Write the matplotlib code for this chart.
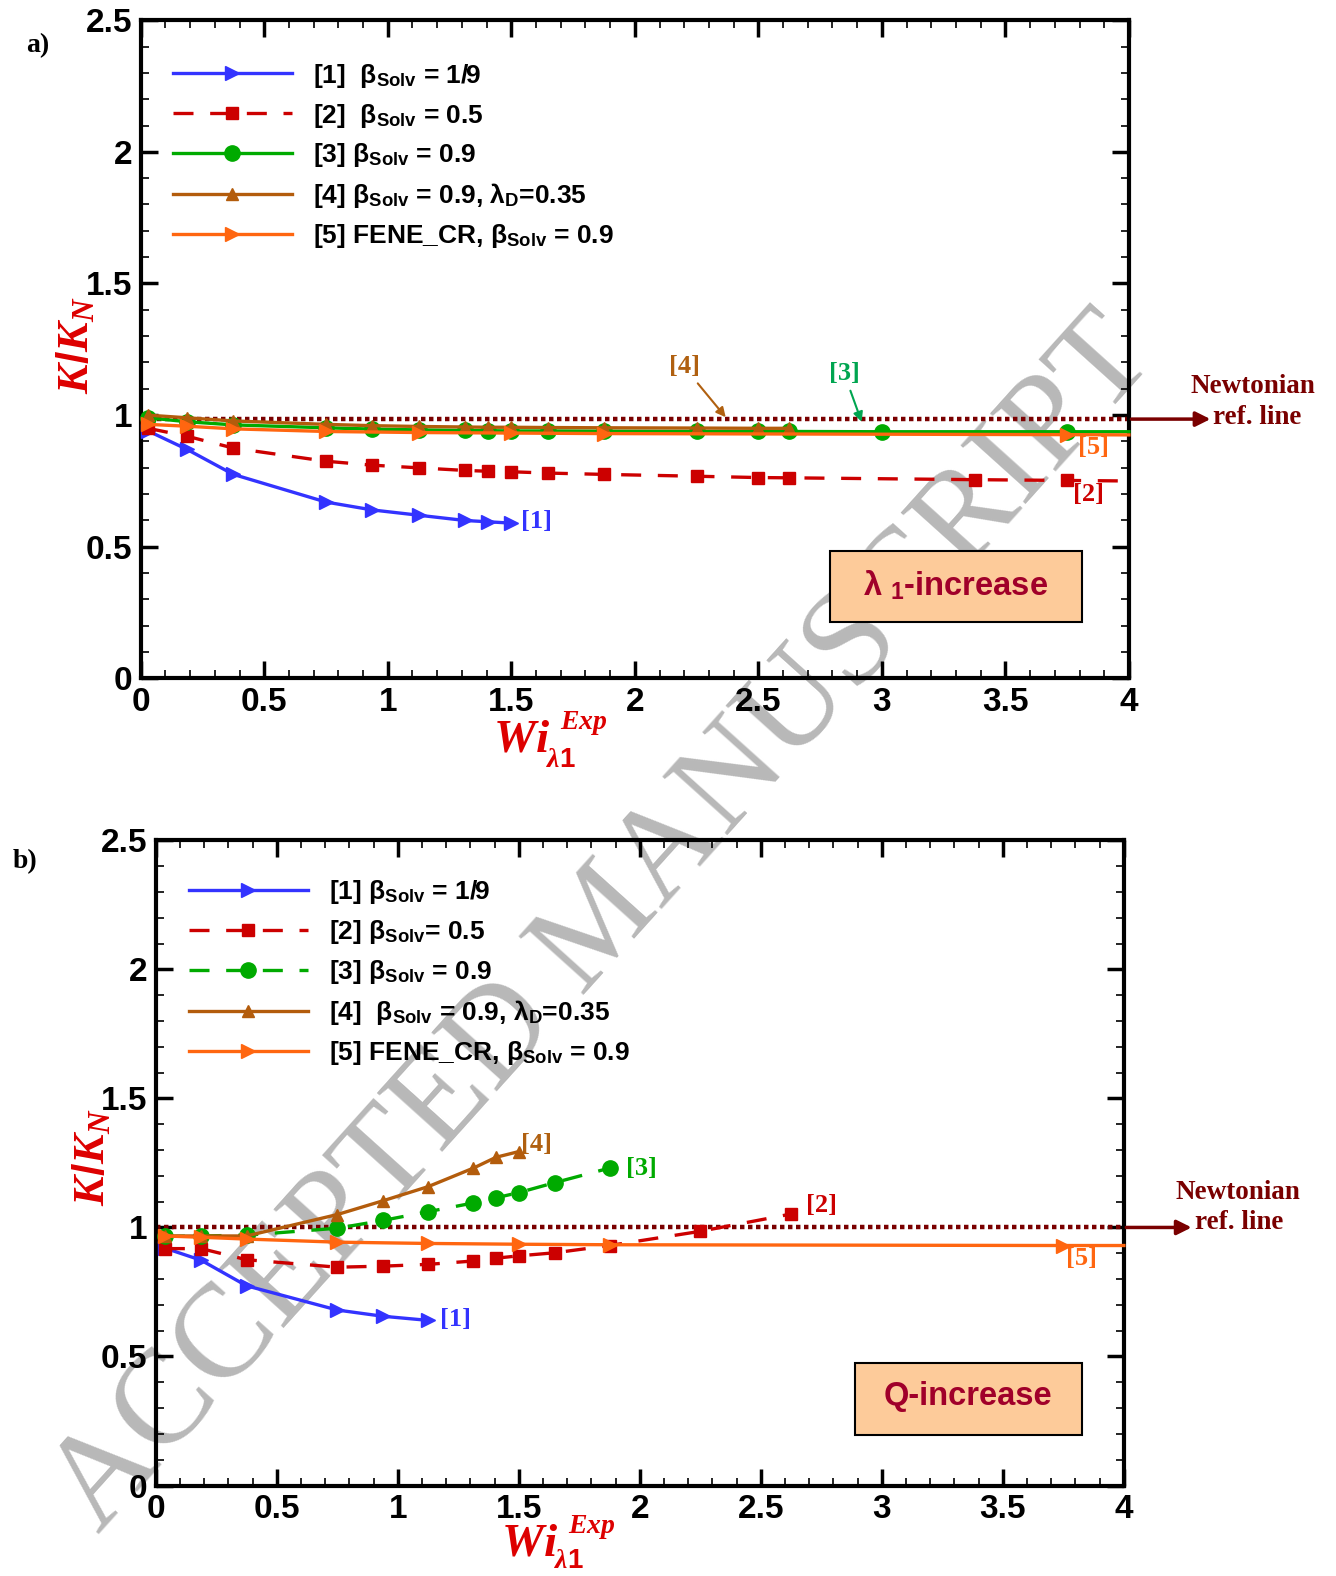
import numpy as np
import matplotlib
matplotlib.use("Agg")
import matplotlib.pyplot as plt
from matplotlib.patches import Rectangle
from matplotlib.ticker import MultipleLocator, FormatStrFormatter

plt.rcParams["font.family"] = ["Liberation Sans", "DejaVu Sans"]
plt.rcParams["font.weight"] = "bold"
plt.rcParams["mathtext.fontset"] = "custom"
plt.rcParams["mathtext.rm"] = "Liberation Sans:bold"
plt.rcParams["mathtext.bf"] = "Liberation Sans:bold"
plt.rcParams["mathtext.it"] = "Liberation Serif:bold:italic"

# ---- panel a) : lambda_1 increase ----
a1_x = [0.03, 0.1875, 0.375, 0.75, 0.9375, 1.125, 1.3125, 1.40625, 1.5]
a1_y = [0.94, 0.87, 0.775, 0.67, 0.64, 0.62, 0.60, 0.595, 0.59]
a2_x = [0.03, 0.1875, 0.375, 0.75, 0.9375, 1.125, 1.3125, 1.40625, 1.5, 1.65, 1.875,
        2.25, 2.5, 2.625, 3.375, 3.75, 4.0]
a2_y = [0.95, 0.92, 0.875, 0.825, 0.81, 0.80, 0.79, 0.787, 0.785, 0.78, 0.775,
        0.768, 0.763, 0.762, 0.755, 0.752, 0.75]
a3_x = [0.03, 0.1875, 0.375, 0.75, 0.9375, 1.125, 1.3125, 1.40625, 1.5, 1.65, 1.875,
        2.25, 2.5, 2.625, 3.0, 3.75, 4.0]
a3_y = [0.99, 0.975, 0.963, 0.952, 0.947, 0.944, 0.942, 0.941, 0.94, 0.94, 0.939,
        0.938, 0.938, 0.938, 0.937, 0.937, 0.937]
a4_x = [0.03, 0.1875, 0.375, 0.75, 0.9375, 1.125, 1.3125, 1.40625, 1.5, 1.65, 1.875,
        2.25, 2.5, 2.625]
a4_y = [1.0, 0.99, 0.978, 0.965, 0.96, 0.957, 0.955, 0.954, 0.954, 0.953, 0.952,
        0.951, 0.95, 0.95]
a5_x = [0.03, 0.1875, 0.375, 0.75, 1.125, 1.5, 1.875, 3.75, 4.0]
a5_y = [0.965, 0.958, 0.948, 0.938, 0.934, 0.932, 0.93, 0.926, 0.925]
newt_a = 0.985

# ---- panel b) : Q increase ----
b1_x = [0.0375, 0.1875, 0.375, 0.75, 0.9375, 1.125]
b1_y = [0.92, 0.873, 0.774, 0.68, 0.656, 0.64]
b2_x = [0.0375, 0.1875, 0.375, 0.75, 0.9375, 1.125, 1.3125, 1.40625, 1.5, 1.65, 1.875,
        2.25, 2.625]
b2_y = [0.918, 0.918, 0.875, 0.846, 0.85, 0.857, 0.87, 0.881, 0.89, 0.902, 0.93,
        0.985, 1.052]
b3_x = [0.0375, 0.1875, 0.375, 0.75, 0.9375, 1.125, 1.3125, 1.40625, 1.5, 1.65, 1.875]
b3_y = [0.965, 0.967, 0.97, 0.997, 1.027, 1.061, 1.095, 1.115, 1.135, 1.174, 1.23]
b4_x = [0.0375, 0.1875, 0.375, 0.75, 0.9375, 1.125, 1.3125, 1.40625, 1.5]
b4_y = [0.967, 0.967, 0.967, 1.05, 1.103, 1.158, 1.23, 1.272, 1.294]
b5_x = [0.0375, 0.1875, 0.375, 0.75, 1.125, 1.5, 1.875, 3.75, 4.0]
b5_y = [0.967, 0.962, 0.955, 0.943, 0.938, 0.935, 0.933, 0.93, 0.93]
newt_b = 1.0

labels_a = [r"[1]  β$_{\mathrm{Solv}}$ = 1/9",
            r"[2]  β$_{\mathrm{Solv}}$ = 0.5",
            r"[3] β$_{\mathrm{Solv}}$ = 0.9",
            r"[4] β$_{\mathrm{Solv}}$ = 0.9, λ$_{\mathrm{D}}$=0.35",
            r"[5] FENE_CR, β$_{\mathrm{Solv}}$ = 0.9"]
labels_b = [r"[1] β$_{\mathrm{Solv}}$ = 1/9",
            r"[2] β$_{\mathrm{Solv}}$= 0.5",
            r"[3] β$_{\mathrm{Solv}}$ = 0.9",
            r"[4]  β$_{\mathrm{Solv}}$ = 0.9, λ$_{\mathrm{D}}$=0.35",
            r"[5] FENE_CR, β$_{\mathrm{Solv}}$ = 0.9"]

BLUE = "#3333ff"
RED = "#cc0000"
GREEN = "#00aa00"
BROWN = "#b35c0c"
ORANGE = "#ff6610"
MAROON = "#7a0000"
LABRED = "#dd0000"
SERIF = "Liberation Serif"
DASH = (0, (6, 5))


def style_axes(ax):
    ax.set_xlim(0, 4)
    ax.set_ylim(0, 2.5)
    ax.set_facecolor("none")
    ax.xaxis.set_major_locator(MultipleLocator(0.5))
    ax.xaxis.set_minor_locator(MultipleLocator(0.1))
    ax.yaxis.set_major_locator(MultipleLocator(0.5))
    ax.yaxis.set_minor_locator(MultipleLocator(0.1))
    ax.xaxis.set_major_formatter(FormatStrFormatter("%g"))
    ax.yaxis.set_major_formatter(FormatStrFormatter("%g"))
    ax.tick_params(which="major", direction="in", length=12, width=2.5,
                   top=True, right=True, labelsize=24, pad=6)
    ax.tick_params(which="minor", direction="in", length=6, width=1.2,
                   top=True, right=True)
    for lab in ax.get_xticklabels() + ax.get_yticklabels():
        lab.set_fontweight("bold")
    for sp in ax.spines.values():
        sp.set_linewidth(3)


def newtonian(ax, level, xn, yn, xr, yr, xtip):
    ax.plot([0, 4], [level, level], color=MAROON, lw=3.2, ls=(0, (1, 0.8)), zorder=2)
    ax.annotate("", xy=(xtip, level), xytext=(4.01, level), annotation_clip=False,
                arrowprops=dict(arrowstyle="-|>", color=MAROON, lw=2.5, mutation_scale=22,
                                shrinkA=0, shrinkB=0))
    ax.text(xn, yn, "Newtonian", color=MAROON, family=SERIF, weight="bold", fontsize=19.5,
            ha="center", va="center", clip_on=False)
    ax.text(xr, yr, "ref. line", color=MAROON, family=SERIF, weight="bold", fontsize=19.5,
            ha="left", va="center", clip_on=False)


def legend(ax, anchor):
    leg = ax.legend(loc="upper left", bbox_to_anchor=anchor, frameon=False, fontsize=19,
                    handlelength=4.5, handletextpad=0.82, labelspacing=0.45,
                    borderpad=0, borderaxespad=0, numpoints=1)
    for t in leg.get_texts():
        t.set_fontweight("bold")


def xlabel(xw, yw, sub_dy=0.013):
    # Wi with subscript lambda1 and superscript Exp, placed as separate pieces
    fig.text(xw, yw, r"$Wi$", color=LABRED, fontsize=34, ha="center", va="center")
    fig.text(xw + 0.0185, yw - sub_dy, r"$\lambda\mathit{1}$", color=LABRED, fontsize=20,
             ha="left", va="center")
    fig.text(xw + 0.029, yw + 0.0105, r"$Exp$", color=LABRED, fontsize=20,
             ha="left", va="center")


fig = plt.figure(figsize=(13.36, 15.76), dpi=100)
axa = fig.add_axes([0.1053, 0.5695, 0.7397, 0.4177])
axb = fig.add_axes([0.1166, 0.0574, 0.7246, 0.4094])

# watermark behind everything
fig.text(0.452, 0.413, "ACCEPTED MANUSCRIPT", family=SERIF, fontsize=96, color="#b8b8b8",
         rotation=48, ha="center", va="center", zorder=-5, weight="normal")

lw = 2.4
ms = 10

# panel a
axa.plot(a1_x, a1_y, color=BLUE, lw=lw, marker=">", ms=ms, label=labels_a[0], clip_on=False, zorder=4)
axa.plot(a2_x, a2_y, color=RED, lw=lw, ls=DASH, marker="s", ms=ms - 1,
         markevery=list(range(len(a2_x) - 1)), label=labels_a[1], clip_on=False, zorder=4)
axa.plot(a3_x, a3_y, color=GREEN, lw=lw, marker="o", ms=ms + 1,
         markevery=list(range(len(a3_x) - 1)), label=labels_a[2], clip_on=False, zorder=4)
axa.plot(a4_x, a4_y, color=BROWN, lw=lw, marker="^", ms=ms - 1, label=labels_a[3], clip_on=False, zorder=5)
axa.plot(a5_x, a5_y, color=ORANGE, lw=lw, marker=">", ms=ms,
         markevery=list(range(len(a5_x) - 1)), label=labels_a[4], clip_on=False, zorder=5)
style_axes(axa)
legend(axa, (0.0326, 0.937))
newtonian(axa, newt_a, 4.50, 1.107, 4.342, 0.992, 4.33)

axa.text(1.54, 0.595, "[1]", color=BLUE, family=SERIF, fontsize=19, ha="left", va="center")
axa.text(3.837, 0.698, "[2]", color=RED, family=SERIF, fontsize=19, ha="center", va="center")
axa.text(3.858, 0.878, "[5]", color=ORANGE, family=SERIF, fontsize=19, ha="center", va="center")
axa.annotate("[4]", xy=(2.368, 0.992), xytext=(2.2, 1.183), color="#b06010", family=SERIF,
             fontsize=19, ha="center", va="center",
             arrowprops=dict(arrowstyle="-|>", color="#b06010", lw=1.5, mutation_scale=14,
                             shrinkA=2, shrinkB=0))
axa.annotate("[3]", xy=(2.918, 0.975), xytext=(2.848, 1.157), color="#00a550", family=SERIF,
             fontsize=19, ha="center", va="center",
             arrowprops=dict(arrowstyle="-|>", color="#00a550", lw=1.5, mutation_scale=14,
                             shrinkA=2, shrinkB=0))

axa.add_patch(Rectangle((0.698, 0.0855), 0.255, 0.1085, transform=axa.transAxes,
                        facecolor="#fdcb9a", edgecolor="black", lw=1.5, zorder=6))
axa.text(0.825, 0.142, r"λ $_{\mathrm{1}}$-increase", transform=axa.transAxes, color="#a0002a",
         fontsize=23.5, weight="bold", ha="center", va="center", zorder=7)

# panel b
axb.plot(b1_x, b1_y, color=BLUE, lw=lw, marker=">", ms=ms, label=labels_b[0], clip_on=False, zorder=4)
axb.plot(b2_x, b2_y, color=RED, lw=lw, ls=DASH, marker="s", ms=ms - 1, label=labels_b[1],
         clip_on=False, zorder=4)
axb.plot(b3_x, b3_y, color=GREEN, lw=lw, ls=DASH, marker="o", ms=ms + 1, label=labels_b[2],
         clip_on=False, zorder=4)
axb.plot(b4_x, b4_y, color=BROWN, lw=lw, marker="^", ms=ms - 1, label=labels_b[3], clip_on=False, zorder=5)
axb.plot(b5_x, b5_y, color=ORANGE, lw=lw, marker=">", ms=ms,
         markevery=list(range(len(b5_x) - 1)), label=labels_b[4], clip_on=False, zorder=5)
style_axes(axb)
legend(axb, (0.0343, 0.941))
newtonian(axb, newt_b, 4.47, 1.137, 4.295, 1.02, 4.28)

axb.text(1.238, 0.643, "[1]", color=BLUE, family=SERIF, fontsize=19, ha="center", va="center")
axb.text(2.75, 1.086, "[2]", color=RED, family=SERIF, fontsize=19, ha="center", va="center")
axb.text(2.006, 1.227, "[3]", color=GREEN, family=SERIF, fontsize=19, ha="center", va="center")
axb.text(1.574, 1.32, "[4]", color="#b06010", family=SERIF, fontsize=19, ha="center", va="center")
axb.text(3.826, 0.88, "[5]", color=ORANGE, family=SERIF, fontsize=19, ha="center", va="center")

axb.add_patch(Rectangle((0.722, 0.078), 0.235, 0.112, transform=axb.transAxes,
                        facecolor="#fdcb9a", edgecolor="black", lw=1.5, zorder=6))
axb.text(0.839, 0.138, "Q-increase", transform=axb.transAxes, color="#a0002a",
         fontsize=23.5, weight="bold", ha="center", va="center", zorder=7)

# axis labels and panel tags
xlabel(0.39, 0.531)
xlabel(0.396, 0.0205, sub_dy=0.0112)
fig.text(0.057, 0.781, r"$K/K_N$", color=LABRED, fontsize=32, rotation=90,
         ha="center", va="center")
fig.text(0.069, 0.266, r"$K/K_N$", color=LABRED, fontsize=32, rotation=90,
         ha="center", va="center")

fig.text(0.0286, 0.9713, "a)", family=SERIF, weight="bold", fontsize=20, ha="center", va="center")
fig.text(0.019, 0.4534, "b)", family=SERIF, weight="bold", fontsize=20, ha="center", va="center")

fig.savefig("out.png", dpi=100)
